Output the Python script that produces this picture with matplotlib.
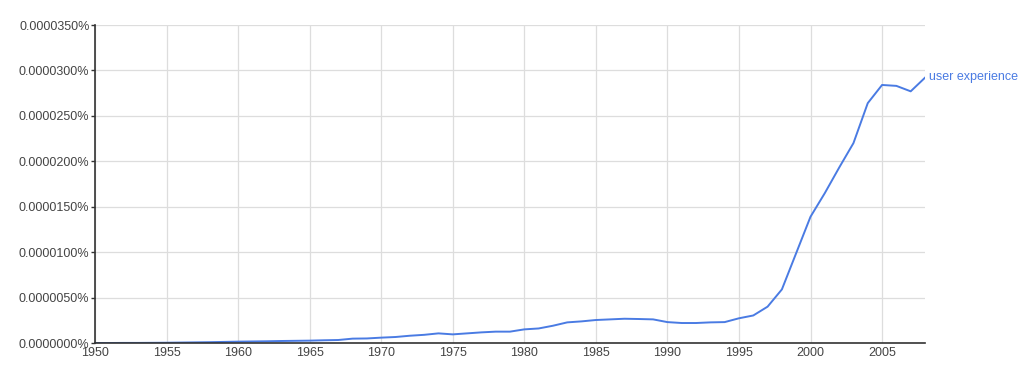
import matplotlib

matplotlib.use("Agg")
import matplotlib.pyplot as plt
from matplotlib.ticker import FuncFormatter, MultipleLocator

# Google Books Ngram: "user experience", share of all bigrams (in %)
YEARS = list(range(1950, 2009))
USER_EXPERIENCE = [
    0.00, 0.00, 0.01, 0.01, 0.02, 0.03, 0.05, 0.07, 0.09, 0.12,  # 1950-59
    0.15, 0.17, 0.19, 0.22, 0.24, 0.26, 0.30, 0.33, 0.48, 0.50,  # 1960-69
    0.59, 0.66, 0.80, 0.90, 1.06, 0.95, 1.06, 1.17, 1.25, 1.25,  # 1970-79
    1.50, 1.60, 1.90, 2.27, 2.38, 2.53, 2.60, 2.67, 2.64, 2.60,  # 1980-89
    2.30, 2.20, 2.20, 2.27, 2.30, 2.72, 3.03, 4.00, 5.90, 9.90,  # 1990-99
    13.90, 16.50, 19.30, 22.00, 26.40, 28.40, 28.30, 27.70, 29.20,  # 2000-08
]
SCALE = 1e-6  # values above are in units of 0.000001 %
SERIES_LABEL = "user experience"

LINE_COLOR = "#4a7be3"
TEXT_COLOR = "#444444"

plt.rcParams["font.family"] = ["Liberation Sans", "DejaVu Sans"]

fig = plt.figure(figsize=(10.24, 3.70), dpi=100)
ax = fig.add_axes([95 / 1024, 1 - 343 / 370, 830 / 1024, 318 / 370])

vals = [v * SCALE for v in USER_EXPERIENCE]
ax.plot(YEARS, vals, color=LINE_COLOR, linewidth=1.4, solid_joinstyle="round")
ax.text(YEARS[-1] + 0.25, vals[-1] + 0.05e-6, SERIES_LABEL, color=LINE_COLOR,
        fontsize=9, va="center", ha="left", clip_on=False)

ax.set_xlim(1950, 2008)
ax.set_ylim(0, 35e-6)
ax.xaxis.set_major_locator(MultipleLocator(5))
ax.yaxis.set_major_locator(MultipleLocator(5e-6))
ax.yaxis.set_major_formatter(FuncFormatter(lambda v, _: f"{v:.7f}%"))

ax.grid(True, color="#dddddd", linewidth=0.9)
ax.set_axisbelow(True)
for side in ("top", "right"):
    ax.spines[side].set_visible(False)
for side in ("left", "bottom"):
    ax.spines[side].set_color("#333333")
    ax.spines[side].set_linewidth(1.2)

ax.tick_params(axis="y", length=3, width=1, color="#333333", pad=1,
               labelsize=9, labelcolor=TEXT_COLOR)
ax.tick_params(axis="x", length=0, pad=3, labelsize=9, labelcolor=TEXT_COLOR)

fig.savefig("out.png", dpi=100)
